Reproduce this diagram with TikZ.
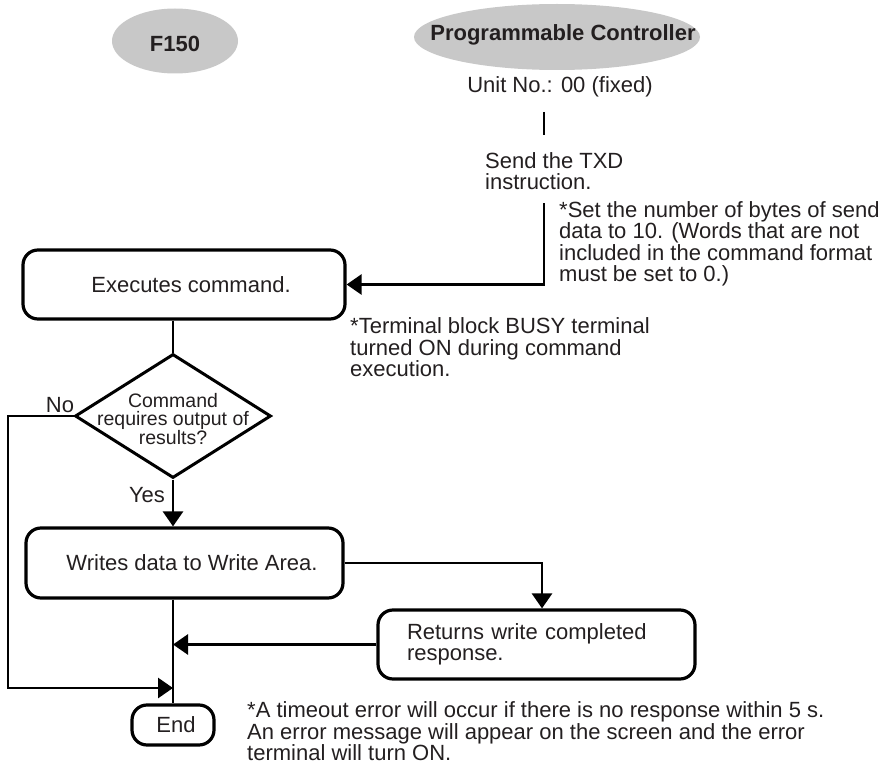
\documentclass[tikz,border=0pt]{standalone}
\usepackage{fontspec}
\setmainfont{Liberation Sans}
\usetikzlibrary{shapes.geometric,arrows.meta}
\definecolor{ellgray}{RGB}{200,200,200}
\definecolor{ink}{RGB}{35,31,32}
\begin{document}
\begin{tikzpicture}[x=1pt,y=-1pt,
  every node/.style={text=ink, font=\fontsize{22}{21.5}\selectfont},
  box/.style={draw=black, line width=3.2pt, rounded corners=15pt, inner sep=0pt},
  ell/.style={ellipse, fill=ellgray, inner sep=0pt},
  elltext/.style={inner sep=0pt, font=\bfseries\fontsize{22}{22}\selectfont},
  dia/.style={diamond, draw=black, line width=3pt, inner sep=0pt, minimum width=196pt, minimum height=124pt},
  diatext/.style={align=center, inner sep=0pt, font=\fontsize{19.5}{18.7}\selectfont},
  conn/.style={draw=black, line width=2.8pt},
  arr/.style={conn, -{Triangle[length=15pt,width=20pt]}},
  note/.style={align=left, inner sep=0pt, anchor=west},
]
\path[use as bounding box] (0,0) rectangle (889,765);

% headers
\node[ell, minimum width=126pt, minimum height=65pt] (f150) at (175,41) {};
\node[elltext] (f150t) at (175,44) {F150};
\node[ell, minimum width=286pt, minimum height=66pt] (plc) at (557,37) {};
\node[elltext] (plct) at (563,35) {Programmable Controller};
\node[inner sep=0pt] (unit) at (560,87) {Unit No.: 00 (fixed)};
\node[note] (send) at (485,171) {Send the TXD\\instruction.};
\node[note] (note1) at (559,244) {*Set the number of bytes of send\\data to 10. (Words that are not\\included in the command format\\must be set to 0.)};

% flow
\node[box, minimum width=322pt, minimum height=69pt] (exe) at (184,284.5) {\hspace*{14pt}Executes command.};
\node[note] (note2) at (350,347.5) {*Terminal block BUSY terminal\\turned ON during command\\execution.};
\node[dia] (dia) at (173,416) {};
\node[diatext] (diat) at (173,419) {Command\\requires output of\\results?};
\node[inner sep=0pt] (no) at (60,405) {No};
\node[inner sep=0pt] (yes) at (147,495) {Yes};
\node[box, minimum width=317pt, minimum height=70pt] (wr) at (184.5,563) {\hspace*{15pt}Writes data to Write Area.};
\node[box, minimum width=317pt, minimum height=69pt, text width=259pt, align=left] (ret) at (536.5,644.5) {Returns write completed\\response.};
\node[box, minimum width=82pt, minimum height=40pt] (end) at (173,725) {\hspace*{6pt}End};
\node[note] (note3) at (247,731.5) {*A timeout error will occur if there is no response within 5 s.\\An error message will appear on the screen and the error\\terminal will turn ON.};

% connectors
\coordinate (a1) at (544,112);
\coordinate (a2) at (544,135);
\coordinate (b1) at (544,203);
\coordinate (nocorner) at (8,688);
\draw[conn] (a1) -- (a2);
\draw[arr] (b1) |- (exe.east);
\draw[conn] (dia.north |- exe.south) -- (dia.north);
\draw[arr] (dia.south) -- (dia.south |- wr.north);
\draw[arr] (dia.west) -| (nocorner) -- (nocorner -| end.north);
\draw[arr] (wr.east) -| ([xshift=5.5pt]ret.north);
\draw[conn] (end.north |- wr.south) -- (end.north);
\draw[arr] (ret.west) -- (ret.west -| end.north);
\end{tikzpicture}
\end{document}
